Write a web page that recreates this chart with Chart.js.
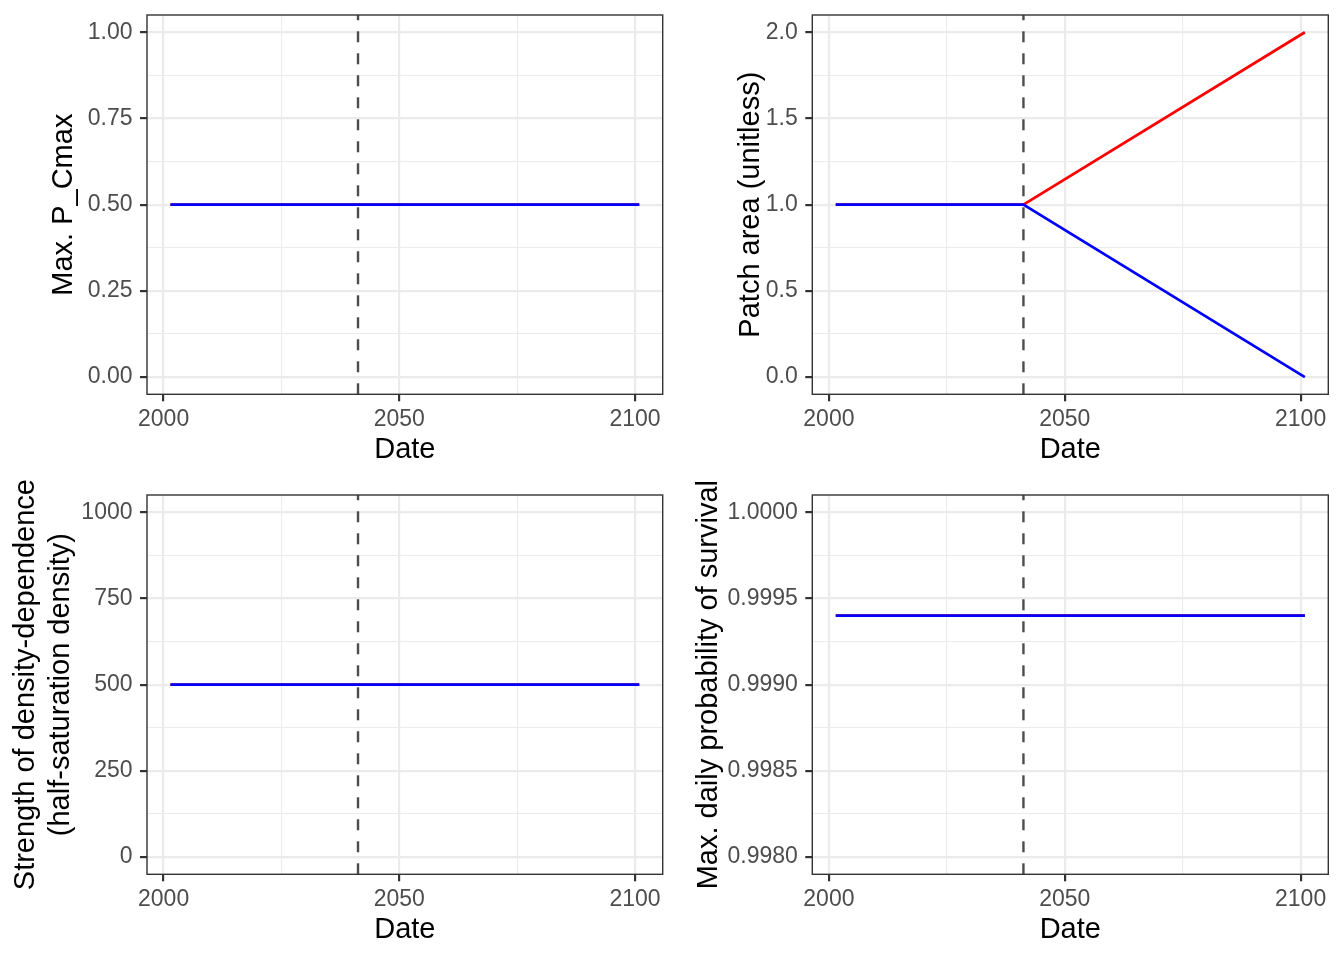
<!DOCTYPE html>
<html>
<head>
<meta charset="utf-8">
<script src="https://cdn.jsdelivr.net/npm/chart.js@4.4.1/dist/chart.umd.min.js"></script>
<style>
  body { margin: 0; background: #ffffff; }
  #wrap { position: relative; width: 1344px; height: 960px; }
  canvas { position: absolute; }
</style>
</head>
<body>
<div id="wrap">
  <canvas id="c1" width="672" height="480" style="left:0px;top:0px"></canvas>
  <canvas id="c2" width="672" height="480" style="left:672px;top:0px"></canvas>
  <canvas id="c3" width="672" height="480" style="left:0px;top:480px"></canvas>
  <canvas id="c4" width="672" height="480" style="left:672px;top:480px"></canvas>
</div>
<script>
// data
const years = [2001.45, 2041.24, 2100.9];
const changeYear = 2041.24;

const pcmaxRed = [0.5, 0.5, 0.5];
const pcmaxBlue = [0.5, 0.5, 0.5];
const areaRed = [1.0, 1.0, 2.0];
const areaBlue = [1.0, 1.0, 0.0];
const densRed = [500, 500, 500];
const densBlue = [500, 500, 500];
const survRed = [0.9994, 0.9994, 0.9994];
const survBlue = [0.9994, 0.9994, 0.9994];

const xMajor = [2000, 2050, 2100];
const xMinor = [2025, 2075];
const xRange = [1996.48, 2105.87];

const pcmaxMajor = [0, 0.25, 0.5, 0.75, 1.0];
const pcmaxMinor = [0.125, 0.375, 0.625, 0.875];
const areaMajor = [0, 0.5, 1.0, 1.5, 2.0];
const areaMinor = [0.25, 0.75, 1.25, 1.75];
const densMajor = [0, 250, 500, 750, 1000];
const densMinor = [125, 375, 625, 875];
const survMajor = [0.998, 0.9985, 0.999, 0.9995, 1.0];
const survMinor = [0.99825, 0.99875, 0.99925, 0.99975];

const FONT = '"Liberation Sans", Arial, Helvetica, sans-serif';

const borderPlugin = {
  id: 'panelBorder',
  afterDraw(chart) {
    const a = chart.chartArea;
    const ctx = chart.ctx;
    ctx.save();
    ctx.strokeStyle = '#333333';
    ctx.lineWidth = 1.4;
    ctx.strokeRect(a.left, a.top, a.right - a.left, a.bottom - a.top);
    ctx.restore();
  }
};

function isMajor(list, v) {
  return list.some(m => Math.abs(m - v) < 1e-9);
}

// drop the label overflow padding chart.js adds, the panel box is fixed
function noPad(s) {
  s.paddingTop = 0;
  s.paddingBottom = 0;
  s.paddingLeft = 0;
  s.paddingRight = 0;
}

function draw(id, col, yTitle, titlePad, major, minor, yRange, decimals, red, blue) {
  const canvas = document.getElementById(id);
  const toPts = vals => years.map((y, i) => ({ x: y, y: vals[i] }));

  const yWidth = col === 0 ? 147 : 140.3;
  const padRight = col === 0 ? 9.3 : 15.7;

  new Chart(canvas, {
    type: 'line',
    data: {
      datasets: [
        {
          // vertical dashed marker
          data: [{ x: changeYear, y: yRange[0] }, { x: changeYear, y: yRange[1] }],
          borderColor: '#4D4D4D',
          borderWidth: 2.4,
          borderDash: [11, 11],
          pointRadius: 0,
        },
        {
          data: toPts(blue),
          borderColor: '#0000FF',
          borderWidth: 2.7,
          pointRadius: 0,
        },
        {
          data: toPts(red),
          borderColor: '#FF0000',
          borderWidth: 2.7,
          pointRadius: 0,
        },
      ],
    },
    options: {
      responsive: false,
      animation: false,
      layout: { padding: { top: 15, right: padRight, left: 0, bottom: 0 } },
      plugins: { legend: { display: false }, tooltip: { enabled: false } },
      scales: {
        x: {
          type: 'linear',
          min: xRange[0],
          max: xRange[1],
          afterBuildTicks: s => { s.ticks = xMajor.concat(xMinor).sort((a, b) => a - b).map(v => ({ value: v })); },
          afterFit: s => { s.height = 85.7; noPad(s); },
          border: { display: false },
          grid: {
            color: '#EBEBEB',
            lineWidth: c => isMajor(xMajor, c.tick.value) ? 2.2 : 1.1,
            tickColor: c => isMajor(xMajor, c.tick.value) ? '#333333' : 'rgba(0,0,0,0)',
            tickWidth: 2.2,
            tickLength: 7,
          },
          ticks: {
            autoSkip: false,
            maxRotation: 0,
            padding: 4.5,
            color: '#4D4D4D',
            font: { family: FONT, size: 23 },
            callback: v => isMajor(xMajor, v) ? String(v) : '',
          },
          title: {
            display: true,
            text: 'Date',
            color: '#000000',
            font: { family: FONT, size: 29 },
            padding: { top: 0, bottom: 12.5 },
          },
        },
        y: {
          type: 'linear',
          min: yRange[0],
          max: yRange[1],
          afterBuildTicks: s => { s.ticks = major.concat(minor).sort((a, b) => a - b).map(v => ({ value: v })); },
          afterFit: s => { s.width = yWidth; noPad(s); },
          border: { display: false },
          grid: {
            color: '#EBEBEB',
            lineWidth: c => isMajor(major, c.tick.value) ? 2.2 : 1.1,
            tickColor: c => isMajor(major, c.tick.value) ? '#333333' : 'rgba(0,0,0,0)',
            tickWidth: 2.2,
            tickLength: 7,
          },
          ticks: {
            autoSkip: false,
            padding: 7.5,
            color: '#4D4D4D',
            font: { family: FONT, size: 23 },
            callback: v => isMajor(major, v) ? v.toFixed(decimals) : '',
          },
          title: {
            display: true,
            text: yTitle,
            color: '#000000',
            font: { family: FONT, size: 29 },
            padding: { top: titlePad, bottom: 0 },
          },
        },
      },
    },
    plugins: [borderPlugin],
  });
}

draw('c1', 0, 'Max. P_Cmax', 46.3, pcmaxMajor, pcmaxMinor, [-0.05, 1.05], 2, pcmaxRed, pcmaxBlue);
draw('c2', 1, 'Patch area (unitless)', 61.2, areaMajor, areaMinor, [-0.1, 2.1], 1, areaRed, areaBlue);
draw('c3', 0, ['Strength of density-dependence', '(half-saturation density)'], 8.3, densMajor, densMinor, [-50, 1050], 0, densRed, densBlue);
draw('c4', 1, 'Max. daily probability of survival', 19.3, survMajor, survMinor, [0.9979, 1.0001], 4, survRed, survBlue);
</script>
</body>
</html>
